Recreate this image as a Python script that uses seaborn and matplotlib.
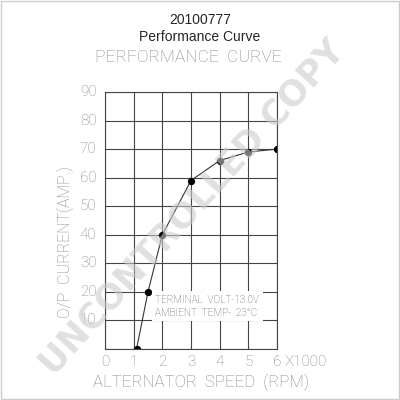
import matplotlib
matplotlib.use("Agg")
import matplotlib.pyplot as plt
import seaborn as sns
import pandas as pd

# data (speed in x1000 rpm, output current in A)
speed = [1.1, 1.5, 2.0, 3.0, 4.0, 5.0, 6.0]
current = [0, 20, 40, 59, 66, 69, 70]
x_ticks = [0, 1, 2, 3, 4, 5, 6]
y_ticks = [10, 20, 30, 40, 50, 60, 70, 80, 90]

df = pd.DataFrame({"speed": speed, "current": current})

sns.set_style("white")
plt.rcParams["font.family"] = ["Roboto", "DejaVu Sans"]

gray = "#858585"
thin = dict(color=gray, fontweight="light")
fig = plt.figure(figsize=(4, 4), dpi=100)
ax = fig.add_axes([0.2625, 0.1275, 0.43, 0.6425])

sns.lineplot(data=df, x="speed", y="current", ax=ax, color="#333333",
             linewidth=0.8, marker="o", markersize=4.5,
             markerfacecolor="black", markeredgecolor="black")

ax.set_xlim(0, 6)
ax.set_ylim(0, 90)
ax.set_xticks(x_ticks)
ax.set_yticks([0] + y_ticks)
ax.grid(True, color="#444444", linewidth=0.8)
for s in ax.spines.values():
    s.set_color("#444444")
    s.set_linewidth(0.8)
ax.tick_params(length=0, labelbottom=False, labelleft=False)
ax.set_xlabel("")
ax.set_ylabel("")

# tick labels in the thin gray drafting style
for v in x_ticks:
    ax.text(v, -4.5, str(v), ha="center", va="center", fontsize=11, **thin)
ax.text(6.25, -4.5, "X1000", ha="left", va="center", fontsize=11, **thin)
for v in y_ticks:
    ax.text(-0.3, v, str(v), ha="right", va="center", fontsize=11, **thin)

# note box covering the grid
ax.text(1.75, 15.0, "TERMINAL  VOLT-13.0V\nAMBIENT  TEMP-  23°C", ha="left",
        va="center", color="#555555", fontsize=7.2, fontweight="light",
        linespacing=1.35,
        bbox=dict(facecolor="white", edgecolor="none", pad=2.5), zorder=5)

fig.text(0.5, 0.95, "20100777", ha="center", va="center", fontsize=10,
         family="Liberation Sans")
fig.text(0.5, 0.907, "Performance Curve", ha="center", va="center",
         fontsize=10, family="Liberation Sans")
fig.text(0.47, 0.857, "PERFORMANCE  CURVE", ha="center", va="center",
         fontsize=12.5, **thin)
fig.text(0.163, 0.395, "O/P  CURRENT(AMP.)", rotation=90, ha="center",
         va="center", fontsize=11.5, **thin)
fig.text(0.503, 0.045, "ALTERNATOR  SPEED  (RPM)", ha="center", va="center",
         fontsize=12.2, **thin)

# watermark
fig.text(0.48, 0.48, "UNCONTROLLED COPY", rotation=48, ha="center",
         va="center", fontsize=25, fontweight="bold", color="#cccccc",
         alpha=0.6, zorder=10, family="DejaVu Sans")

fig.patches.append(plt.Rectangle((0.002, 0.002), 0.996, 0.996,
                                 transform=fig.transFigure, fill=False,
                                 edgecolor="#cccccc", linewidth=1))

fig.savefig("out.png", dpi=100)
